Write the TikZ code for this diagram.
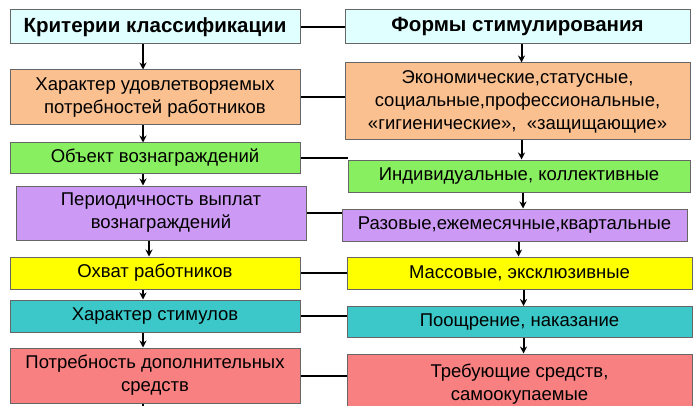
\documentclass[tikz,border=0pt]{standalone}
\usepackage{fontspec}
\setmainfont{Liberation Sans}
\usetikzlibrary{arrows.meta}
\definecolor{hdcol}{HTML}{E0FFFF}
\definecolor{peachcol}{HTML}{FAC090}
\definecolor{greencol}{HTML}{88F060}
\definecolor{violetcol}{HTML}{CC99F5}
\definecolor{yellowcol}{HTML}{FFFF00}
\definecolor{tealcol}{HTML}{3CC8C8}
\definecolor{redcol}{HTML}{F88080}
\begin{document}
\begin{tikzpicture}[x=1pt,y=-1pt,font=\fontsize{18.5}{23}\selectfont]
    % Define styles
    \tikzset{
        crit/.style={rectangle, draw=gray!80!black, line width=1pt, align=center, inner sep=0pt},
        link/.style={line width=2pt},
        arrow/.style={-{Stealth[length=7pt,width=7pt]}, line width=2pt},
    }
    \useasboundingbox (0,0) rectangle (700,406);

    % Criteria column
    \node[crit, fill=hdcol, minimum width=290pt, minimum height=34pt] (L1) at (155,27) {\bfseries\fontsize{20.5}{24}\selectfont Критерии классификации};
    \node[crit, fill=peachcol, minimum width=290pt, minimum height=55pt] (L2) at (155,97.5) {Характер удовлетворяемых\\потребностей работников};
    \node[crit, fill=greencol, minimum width=290pt, minimum height=30pt] (L3) at (155,158) {Объект вознаграждений};
    \node[crit, fill=violetcol, minimum width=290pt, minimum height=54pt] (L4) at (161,213) {Периодичность выплат\\вознаграждений};
    \node[crit, fill=yellowcol, minimum width=290pt, minimum height=32pt] (L5) at (155,273) {Охват работников};
    \node[crit, fill=tealcol, minimum width=290pt, minimum height=32pt] (L6) at (155,316) {Характер стимулов};
    \node[crit, fill=redcol, minimum width=290pt, minimum height=55pt] (L7) at (155,375.5) {Потребность дополнительных\\средств};

    % Forms column
    \node[crit, fill=hdcol, minimum width=345pt, minimum height=34pt] (R1) at (517.5,27) {\bfseries\fontsize{20.5}{24}\selectfont Формы стимулирования};
    \node[crit, fill=peachcol, minimum width=345pt, minimum height=77pt] (R2) at (517.5,101.5) {Экономические,статусные,\\социальные,профессиональные,\\«гигиенические»,\ \ «защищающие»};
    \node[crit, fill=greencol, minimum width=342pt, minimum height=32pt] (R3) at (519,176) {Индивидуальные, коллективные};
    \node[crit, fill=violetcol, minimum width=345pt, minimum height=32pt] (R4) at (514.5,225) {Разовые,ежемесячные,квартальные};
    \node[crit, fill=yellowcol, minimum width=345pt, minimum height=32pt] (R5) at (519.5,273) {Массовые, эксклюзивные};
    \node[crit, fill=tealcol, minimum width=345pt, minimum height=31pt] (R6) at (519.5,322) {Поощрение, наказание};
    \node[crit, fill=redcol, minimum width=345pt, minimum height=60pt] (R7) at (519.5,384) {Требующие средств,\\самоокупаемые};

    % Links between columns
    \foreach \i in {1,...,7}
        \draw[link] (L\i.east) -- (L\i.east -| R\i.west);

    % Arrows down each column
    \foreach \i/\j in {1/2,2/3,3/4,4/5,5/6,6/7} {
        \draw[arrow] ([xshift=-12pt]L\i.south) -- ([xshift=-12pt]L\i.south |- L\j.north);
        \draw[arrow] ([xshift=4pt]R\i.south) -- ([xshift=4pt]R\i.south |- R\j.north);
    }
    \coordinate (Lend) at (143,406);
    \draw[link] ([xshift=-12pt]L7.south) -- (Lend);
\end{tikzpicture}
\end{document}
